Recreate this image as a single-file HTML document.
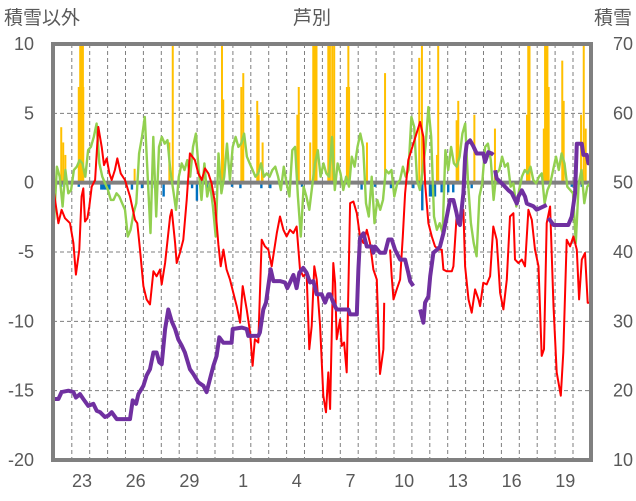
<!DOCTYPE html>
<html><head><meta charset="utf-8">
<style>
html,body{margin:0;padding:0;background:#fff;}
svg{display:block;font-family:"Liberation Sans","Noto Sans CJK JP",sans-serif;}
</style></head>
<body>
<svg id="chart" width="636" height="501" viewBox="0 0 636 501">
<text x="4" y="24" font-size="19" fill="#595959">積雪以外</text>
<text x="312" y="24" font-size="19" fill="#595959" text-anchor="middle">芦別</text>
<text x="632" y="24" font-size="19" fill="#595959" text-anchor="end">積雪</text>
<g id="grid"></g><g id="bars"></g><g id="zero"></g><g id="lines"></g><g id="frame"></g><g id="labels"></g>
</svg>
<script>
const leftTicks=[10,5,0,-5,-10,-15,-20];
const rightTicks=[70,60,50,40,30,20,10];
const xTickLabels=["23","26","29","1","4","7","10","13","16","19"];
const xTickDays=[23,26,29,32,35,38,41,44,47,50];
const precipDays=[21.84,21.95,22.07,22.82,22.9,22.96,23.0,23.05,23.07,25.94,27.88,28.07,30.82,30.89,31.9,31.95,32.01,32.79,32.87,33.05,33.09,35.03,35.11,35.75,35.92,36.0,36.1,36.76,36.8,36.85,36.98,37.09,37.8,37.88,37.92,38.92,39.93,41.84,41.99,42.83,42.9,43.93,44.02,44.92,46.07,47.86,47.93,48.0,48.8,48.87,48.94,49.0,49.07,49.83,49.91,50.88,51.03,51.14];
const precipVals=[4.0,2.9,2.0,6.9,10,10,10,10,6.9,1.0,2.9,10,10,6.0,6.9,2.4,7.9,5.9,4.9,1.0,2.9,4.9,6.9,2.9,10,10,10,10,3.9,10,10,10,6.9,10,6.9,2.9,7.9,9.0,10,2.0,10,4.5,5.9,4.9,3.9,4.9,10,10,3.9,10,10,10,6.9,8.8,5.9,4.9,10,3.9];
const negDays=[21.84,22.82,24.08,24.19,24.3,24.42,24.53,25.79,26.35,26.91,27.56,29.15,29.42,29.98,31.38,31.85,33.02,33.52,35.29,38.62,39.37,40.26,41.51,42.01,42.44,42.54,42.72,43.09,43.46,43.74,44.58,44.77,50.36,50.92];
const negVals=[-0.3,-0.3,-0.5,-0.5,-0.5,-0.5,-0.5,-0.5,-0.4,-0.4,-1.0,-0.4,-1.3,-0.4,-0.3,-0.4,-0.4,-0.4,-0.3,-0.5,-0.3,-0.4,-0.4,-2.0,-1.0,-1.0,-1.0,-0.7,-0.7,-0.7,-0.4,-0.4,-0.3,-0.3];
const tempDays=[21.44,21.68,21.86,22.05,22.33,22.52,22.66,22.85,22.98,23.07,23.17,23.3,23.41,23.54,23.73,23.91,24.1,24.23,24.38,24.53,24.66,24.84,24.97,25.16,25.4,25.68,25.96,26.09,26.24,26.43,26.61,26.8,26.99,27.17,27.36,27.45,27.64,27.92,28.01,28.2,28.29,28.47,28.66,28.85,29.03,29.31,29.5,29.69,29.87,30.06,30.24,30.43,30.62,30.75,30.9,31.08,31.27,31.45,31.64,31.83,31.98,32.2,32.39,32.53,32.66,32.85,33.04,33.22,33.41,33.6,33.88,34.06,34.25,34.43,34.62,34.81,34.99,35.18,35.36,35.55,35.7,35.83,35.98,36.11,36.3,36.48,36.63,36.76,36.86,37.04,37.14,37.23,37.42,37.51,37.64,37.79,37.98,38.16,38.35,38.53,38.72,38.91,39.09,39.28,39.47,39.56,39.65,39.84,39.88,40.05,40.21,40.3,40.4,40.58,40.77,40.92,41.05,41.23,41.37,41.89,42.07,42.17,42.35,42.54,42.72,42.91,43.1,43.19,43.38,43.66,43.75,43.93,44.12,44.31,44.4,44.59,44.77,44.96,45.15,45.24,45.42,45.61,45.8,45.98,46.17,46.36,46.54,46.73,46.91,47.1,47.19,47.38,47.57,47.75,47.94,48.13,48.31,48.5,48.68,48.81,48.96,49.15,49.34,49.52,49.75,49.89,50.08,50.27,50.45,50.64,50.77,50.92,51.1,51.25,51.38,51.48];
const tempVals=[-0.77,-2.92,-1.96,-2.56,-2.92,-4.35,-6.63,-4.83,-1.0,-0.41,-2.8,-2.56,-1.72,-0.29,0.19,4.02,2.58,1.27,1.75,0.67,0.19,0.91,1.75,0.67,0.19,-1.0,-2.68,-2.92,-4.83,-7.46,-8.42,-8.78,-6.39,-6.75,-6.27,-7.34,-5.79,-2.44,-1.96,-4.35,-5.79,-5.07,-4.11,-1.24,2.11,1.63,0.67,0.19,1.03,0.67,-0.05,-1.48,-4.47,-6.03,-4.83,-6.27,-6.99,-7.94,-8.9,-10.1,-7.46,-9.14,-10.81,-13.21,-11.29,-11.53,-4.11,-4.59,-4.83,-6.03,-3.64,-2.44,-3.4,-3.88,-3.4,-3.64,-3.16,-6.27,-6.75,-6.51,-12.01,-10.33,-6.03,-6.99,-10.33,-15.36,-16.56,-13.68,-16.32,-5.79,-7.22,-11.29,-9.86,-11.77,-11.53,-13.68,-1.48,-1.36,-2.2,-3.88,-4.35,-3.4,-4.35,-6.27,-6.99,-10.57,-13.8,-12.01,-8.66,null,-4.83,-6.75,-8.42,-7.7,-6.99,-3.88,-0.77,1.63,2.22,4.38,3.3,-0.05,-2.92,-3.88,-4.59,-4.83,-4.83,-6.27,-6.39,-6.39,-6.03,-2.44,-2.68,-1.96,-6.03,-8.42,-9.38,-7.7,-8.42,-8.9,-7.22,-7.34,-6.75,-3.16,-4.11,-7.94,-9.14,-6.99,-2.44,-2.2,-5.55,-5.79,-5.55,-6.03,-1.96,-2.68,-4.83,-6.03,-12.49,-12.01,-2.92,-1.72,-8.9,-13.68,-15.36,-12.25,-4.11,-4.59,-3.88,-4.83,-8.42,-5.55,-5.07,-8.66,-8.66,-9.62];
const otherVals=[-2.68,1.15,0.43,-1.72,0.91,-0.77,-0.53,0.91,1.15,1.63,1.39,0.43,2.34,2.58,3.3,4.26,1.39,0.43,-0.05,-0.53,-1.24,-1.24,-0.77,-1.0,-1.48,-1.96,-3.88,-3.4,-2.2,-1.48,2.11,3.3,4.74,0.43,-3.64,3.3,-2.44,2.58,3.3,2.82,3.06,0.91,-0.53,-1.96,0.43,1.39,0.91,1.63,0.43,2.58,3.54,0.91,-1.24,1.39,-1.0,-0.05,-1.72,-3.88,2.11,-0.77,0.43,2.82,0.19,2.58,3.3,2.58,2.82,3.54,1.87,1.39,0.91,0.43,0.67,1.39,0.43,0.67,0.43,0.91,1.15,0.43,-0.53,1.15,-0.05,-1.0,2.34,2.58,-1.0,-3.88,-0.29,-1.0,-1.96,-0.29,1.39,2.34,0.43,1.39,0.67,0.43,3.3,
-0.53,1.39,0.67,-0.53,0.43,-0.29,1.87,1.15,2.58,3.54,2.58,-1.48,-2.44,0.43,-2.92,-1.24,-1.96,-1.24,0.91,0.67,0.91,-1.0,-0.05,0.19,1.15,0.43,0.91,4.74,4.02,0.19,-0.53,0.91,2.58,5.45,3.3,-2.44,-3.4,-2.92,-3.64,2.34,0.91,2.58,1.39,1.15,1.87,3.54,4.26,-0.05,-2.92,-4.35,-5.31,-1.0,-0.05,2.58,2.82,1.63,-1.24,0.67,0.91,1.87,1.15,1.39,-0.29,-0.05,-1.72,-0.53,0.43,0.91,0.67,1.15,0.19,-0.05,0.43,0.67,-1.48,-0.53,-0.05,0.91,1.87,0.91,2.11,1.39,-0.29,-0.53,-0.77,-4.35,-0.05,0.91,-1.48,-0.29,-0.05];
const otherStart=21.44, otherEnd=51.38;
const snowDays=[21.4,21.68,21.86,22.24,22.52,22.66,22.89,23.07,23.35,23.63,23.82,24.01,24.28,24.47,24.66,24.94,25.68,25.83,26.02,26.15,26.43,26.61,26.8,26.99,27.17,27.32,27.45,27.64,27.82,28.01,28.2,28.38,28.57,28.75,29.03,29.22,29.5,29.78,29.96,30.15,30.34,30.52,30.67,30.9,31.36,31.42,31.92,32.2,32.29,32.85,32.94,33.13,33.28,33.41,33.54,33.69,34.06,34.34,34.47,34.62,34.81,34.99,35.14,35.36,35.55,35.74,35.92,36.11,36.39,36.58,36.76,36.86,37.04,37.23,37.88,37.98,38.35,38.44,38.53,38.72,38.91,39.19,39.28,39.37,39.65,39.93,40.12,40.3,40.49,40.77,41.05,41.23,41.33,41.51,41.7,41.89,42.07,42.17,42.35,42.45,42.63,42.82,43.0,43.19,43.38,43.56,43.75,43.93,44.03,44.12,44.31,44.4,44.49,44.68,44.87,45.05,45.42,45.52,45.7,45.89,45.98,46.03,46.08,46.17,46.45,46.82,47.01,47.29,47.38,47.57,47.75,47.85,48.03,48.22,48.4,48.96,49.01,49.06,49.34,50.17,50.36,50.55,50.64,50.92,51.01,51.2,51.29,51.38];
const snowVals=[18.8,18.8,19.8,20.0,19.8,19.0,19.5,18.8,17.8,18.1,17.1,16.9,16.2,16.4,16.9,15.9,15.9,18.6,18.1,19.5,20.7,22.2,23.1,25.5,25.5,24.1,23.8,28.9,31.7,30.0,28.9,27.4,26.5,25.5,23.1,22.4,21.2,20.7,19.8,21.7,23.6,25.0,27.7,26.9,26.9,28.9,29.1,28.9,27.9,27.9,28.4,31.7,32.7,35.1,37.5,35.8,35.8,35.6,34.8,35.6,36.7,34.8,37.0,37.7,37.0,35.6,35.8,33.9,33.9,32.7,33.9,33.9,32.7,31.7,31.7,31.0,31.0,37.5,42.0,42.7,40.8,40.8,39.9,40.8,39.9,39.9,41.8,41.8,40.3,38.9,38.9,37.0,35.8,35.1,null,31.7,29.8,32.7,33.6,36.5,39.9,40.3,40.8,42.7,45.1,47.5,47.5,45.6,44.2,43.9,48.5,53.7,55.6,56.1,55.2,54.2,54.2,53.0,54.4,54.2,54.0,null,51.8,50.6,49.9,48.9,48.5,47.0,48.0,48.9,48.0,47.0,46.8,46.6,46.1,46.8,null,44.9,43.9,43.9,45.1,48.5,55.6,55.6,54.0,54.0,52.8,53.3];

const NS='http://www.w3.org/2000/svg';
const L=53,R=591,T=44,B=460;
function xS(d){return 82+(d-23)*17.9;}
function yL(v){return T+(10-v)*(B-T)/30;}
function yR(v){return T+(70-v)*(B-T)/60;}
function mk(tag,attrs,parent){const e=document.createElementNS(NS,tag);for(const k in attrs)e.setAttribute(k,attrs[k]);parent.appendChild(e);return e;}
const g=id=>document.getElementById(id);

// horizontal dashed grid
for(const v of [5,-5,-10,-15]){
  const l=mk('line',{x1:L,x2:R,y1:yL(v),y2:yL(v),stroke:'#7f7f7f','stroke-width':1,'stroke-dasharray':'4,3'},g('grid'));
  
  
}
for(let k=0;k<29;k++){
  const x=xS(22.43+k);
  const l=mk('line',{x1:x,x2:x,y1:T,y2:B,stroke:'#7f7f7f','stroke-width':1,'stroke-dasharray':'4,3'},g('grid'));
  
  
}
// bars
precipDays.forEach((d,i)=>{
  const v=Math.min(precipVals[i],10);
  const r=mk('rect',{x:xS(d)-1,y:yL(v),width:2,height:yL(0)-yL(v),fill:'#FFC000'},g('bars'));
  
  
});
negDays.forEach((d,i)=>{
  const r=mk('rect',{x:xS(d)-1.2,y:yL(0),width:2.4,height:yL(negVals[i])-yL(0),fill:'#0070C0'},g('bars'));
  
  
});
const z=mk('line',{x1:L,x2:R,y1:yL(0),y2:yL(0),stroke:'#808080','stroke-width':4},g('zero'));



function pathFrom(days,vals,ys){
  let d='',pen=false;
  for(let i=0;i<vals.length;i++){
    if(vals[i]===null){pen=false;continue;}
    d+=(pen?'L':'M')+xS(days[i]).toFixed(1)+','+ys(vals[i]).toFixed(1);pen=true;
  }
  return d;
}
const otherDays=otherVals.map((_,i)=>otherStart+i*(otherEnd-otherStart)/(otherVals.length-1));
const pg=mk('path',{d:pathFrom(otherDays,otherVals,yL),fill:'none',stroke:'#92D050','stroke-width':2.4,'stroke-linejoin':'round'},g('lines'));


const pr=mk('path',{d:pathFrom(tempDays,tempVals,yL),fill:'none',stroke:'#FF0000','stroke-width':2,'stroke-linejoin':'round'},g('lines'));


const pp=mk('path',{d:pathFrom(snowDays,snowVals,yR),fill:'none',stroke:'#7030A0','stroke-width':4,'stroke-linejoin':'round'},g('lines'));



const fr=mk('rect',{x:L,y:T,width:R-L,height:B-T,fill:'none',stroke:'#808080','stroke-width':4},g('frame'));



leftTicks.forEach(v=>{
  const t=mk('text',{x:34,y:yL(v)+6,'font-size':18,fill:'#595959','text-anchor':'end'},g('labels'));
  t.textContent=v;
  
  
});
rightTicks.forEach(v=>{
  const t=mk('text',{x:633,y:yR(v)+6,'font-size':18,fill:'#595959','text-anchor':'end'},g('labels'));
  t.textContent=v;
  
  
});
xTickDays.forEach((d,i)=>{
  const t=mk('text',{x:xS(d),y:487,'font-size':18,fill:'#595959','text-anchor':'middle'},g('labels'));
  t.textContent=xTickLabels[i];
  
  
});
</script>
</body></html>
